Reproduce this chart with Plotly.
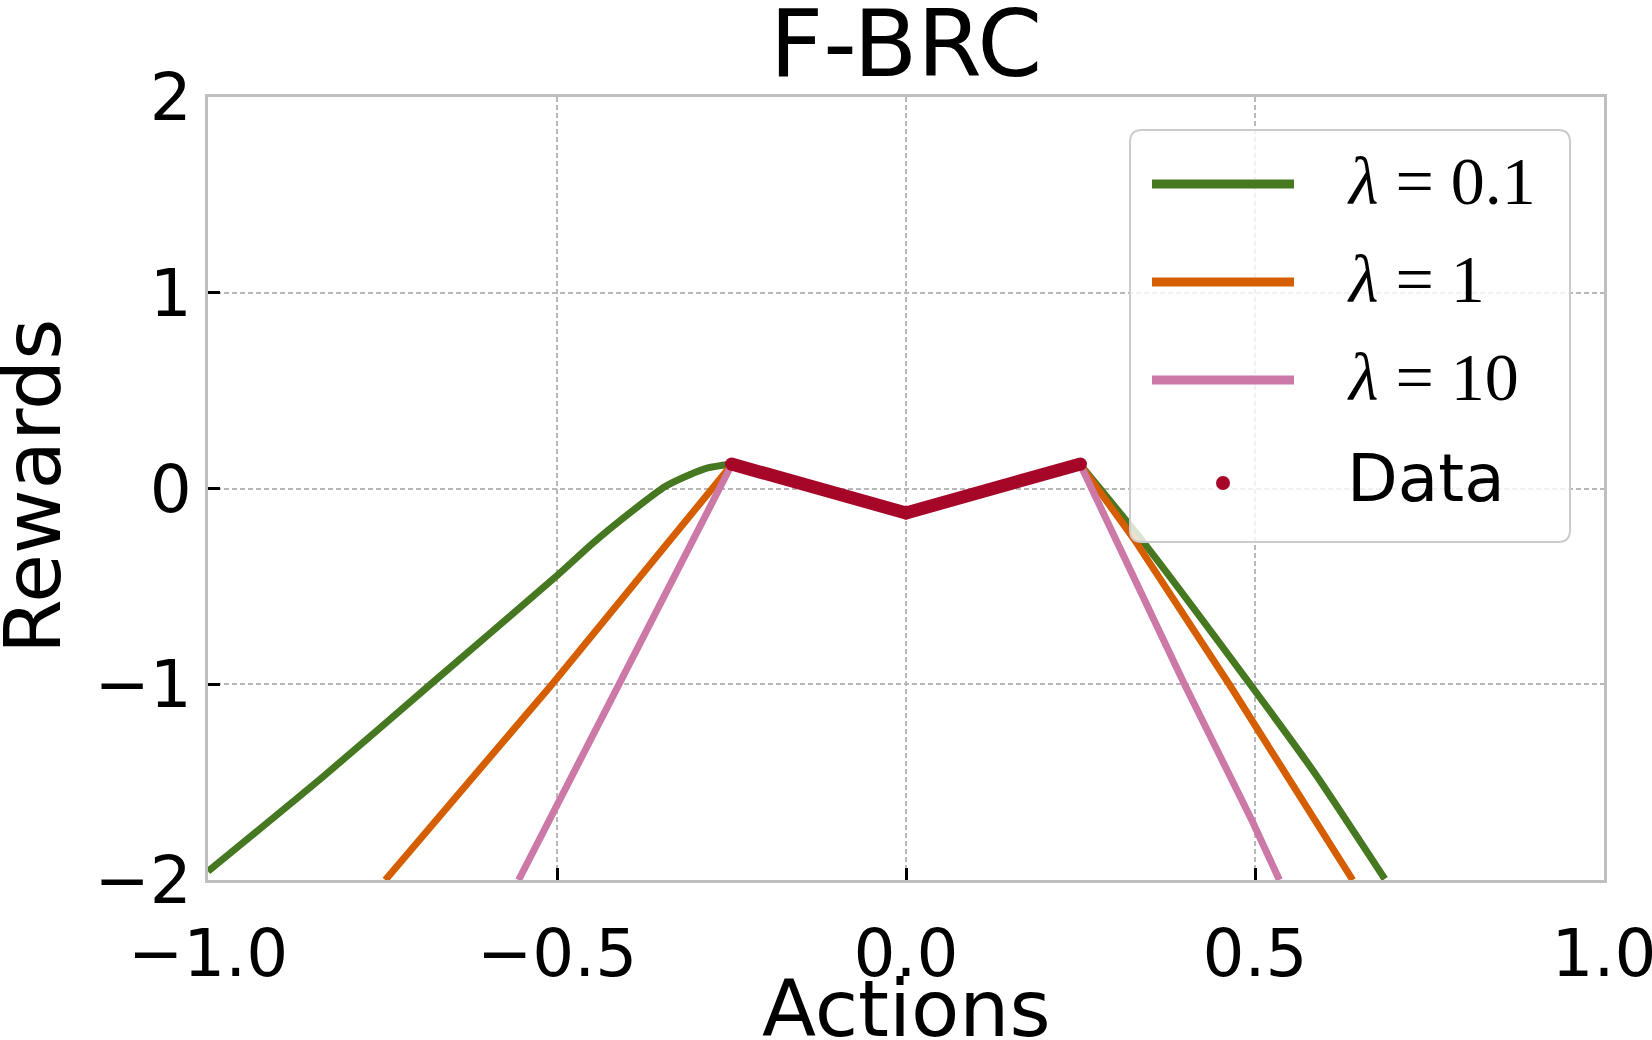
import plotly.graph_objects as go

# ---------------- data ----------------
green_x = [-1.0, -0.835, -0.681, -0.5, -0.449, -0.394, -0.345, -0.31, -0.284, -0.25,
           0.25, 0.337, 0.493, 0.585, 0.686]
green_y = [-1.956, -1.472, -1.0, -0.445, -0.28, -0.12, 0.01, 0.07, 0.105, 0.125,
           0.12, -0.26, -1.0, -1.451, -1.995]

orange_x = [-0.746, -0.507, -0.25, 0.25, 0.327, 0.463, 0.640]
orange_y = [-2.0, -1.0, 0.12, 0.12, -0.26, -1.0, -2.0]

pink_x = [-0.555, -0.412, -0.25, 0.25, 0.399, 0.497, 0.535]
pink_y = [-2.0, -1.0, 0.12, 0.12, -1.0, -1.706, -2.0]

data_x = [-0.25, 0.0, 0.25]
data_y = [0.125, -0.125, 0.125]

x_ticks = [-1.0, -0.5, 0.0, 0.5, 1.0]
x_ticktext = ["\u22121.0", "\u22120.5", "0.0", "0.5", "1.0"]
y_ticks = [-2, -1, 0, 1, 2]
y_ticktext = ["\u22122", "\u22121", "0", "1", "2"]

series_names = ["<i>λ</i> = 0.1", "<i>λ</i> = 1", "<i>λ</i> = 10", "Data"]
GREEN, ORANGE, PINK, CRIMSON = "#467821", "#D55E00", "#CC79A7", "#A60628"

# ---------------- figure ----------------
fig = go.Figure()
for xs, ys, col, nm, shp in [(green_x, green_y, GREEN, series_names[0], "spline"),
                             (orange_x, orange_y, ORANGE, series_names[1], "linear"),
                             (pink_x, pink_y, PINK, series_names[2], "linear")]:
    # left and right branches are separate segments
    k = xs.index(-0.25)
    for seg_x, seg_y in [(xs[:k + 1], ys[:k + 1]), (xs[k + 1:], ys[k + 1:])]:
        fig.add_trace(go.Scatter(x=seg_x, y=seg_y, mode="lines", name=nm,
                                 line=dict(color=col, width=7, shape=shp, smoothing=0.6),
                                 showlegend=False))

fig.add_trace(go.Scatter(x=data_x, y=data_y, mode="lines+markers", name="Data",
                         line=dict(color=CRIMSON, width=13),
                         marker=dict(color=CRIMSON, size=13),
                         showlegend=False))

# ---------------- custom legend (paper coords) ----------------
L, R, T, B = 208, 1604, 97, 880
W, H = R - L, B - T
def px(v):
    return (v - L) / W
def py(v):
    return (B - v) / H

x0, x1 = px(1130), px(1570)
y0, y1 = py(542), py(130)
rx, ry = 12 / W, 12 / H
path = (f"M {x0+rx},{y1} L {x1-rx},{y1} Q {x1},{y1} {x1},{y1-ry} "
        f"L {x1},{y0+ry} Q {x1},{y0} {x1-rx},{y0} L {x0+rx},{y0} "
        f"Q {x0},{y0} {x0},{y0+ry} L {x0},{y1-ry} Q {x0},{y1} {x0+rx},{y1} Z")
shapes = [dict(type="path", xref="paper", yref="paper", path=path,
               fillcolor="rgba(255,255,255,0.8)",
               line=dict(color="#cccccc", width=2), layer="above")]
rows = [184, 282, 380, 483]
cols = [GREEN, ORANGE, PINK]
for r, c in zip(rows[:3], cols):
    shapes.append(dict(type="line", xref="paper", yref="paper",
                       x0=px(1152), x1=px(1294), y0=py(r), y1=py(r),
                       line=dict(color=c, width=9), layer="above"))
shapes.append(dict(type="circle", xref="paper", yref="paper",
                   x0=px(1223 - 7), x1=px(1223 + 7), y0=py(483 + 7), y1=py(483 - 7),
                   fillcolor=CRIMSON, line=dict(color=CRIMSON, width=0), layer="above"))

annotations = []
for r, nm in zip(rows[:3], series_names[:3]):
    annotations.append(dict(xref="paper", yref="paper", x=px(1345), y=py(r - 3),
                            xanchor="left", yanchor="middle", text=nm, showarrow=False,
                            font=dict(family="Liberation Serif", size=68, color="black")))
annotations.append(dict(xref="paper", yref="paper", x=px(1345), y=py(rows[3] - 5),
                        xanchor="left", yanchor="middle", text=series_names[3], showarrow=False,
                        font=dict(family="DejaVu Sans", size=66, color="black")))
# axis titles
annotations.append(dict(xref="paper", yref="paper", x=0.5, y=py(1009),
                        xanchor="center", yanchor="middle", text="Actions", showarrow=False,
                        font=dict(family="DejaVu Sans", size=79, color="black")))
annotations.append(dict(xref="paper", yref="paper", x=px(33), y=py(487),
                        xanchor="center", yanchor="middle", text="Rewards", showarrow=False,
                        textangle=-90,
                        font=dict(family="DejaVu Sans", size=79, color="black")))

axis_common = dict(showline=True, linecolor="#bfbfbf", linewidth=3, mirror=True,
                   showgrid=True, gridcolor="#b8b8b8", gridwidth=1.5, griddash="5px,3px",
                   zeroline=False, ticks="inside", ticklen=12, tickwidth=2.5,
                   tickcolor="black", ticklabeloverflow="allow", automargin=False,
                   tickfont=dict(family="DejaVu Sans", size=66, color="black"))

fig.update_layout(
    width=1652, height=1040,
    margin=dict(l=L, r=1652 - R, t=T, b=1040 - B, pad=0, autoexpand=False),
    paper_bgcolor="white", plot_bgcolor="white",
    font=dict(family="DejaVu Sans", color="black"),
    title=dict(text="F-BRC", x=0.5, xref="paper", xanchor="center",
               y=1 - 43 / 1040, yref="container", yanchor="middle",
               font=dict(family="DejaVu Sans", size=93, color="black")),
    xaxis=dict(range=[-1, 1], tickvals=x_ticks, ticktext=x_ticktext,
               ticklabelstandoff=14, **axis_common),
    yaxis=dict(range=[-2, 2], tickvals=y_ticks, ticktext=y_ticktext,
               ticklabelstandoff=0, **axis_common),
    shapes=shapes, annotations=annotations, showlegend=False,
)

fig.write_html("out.html")
